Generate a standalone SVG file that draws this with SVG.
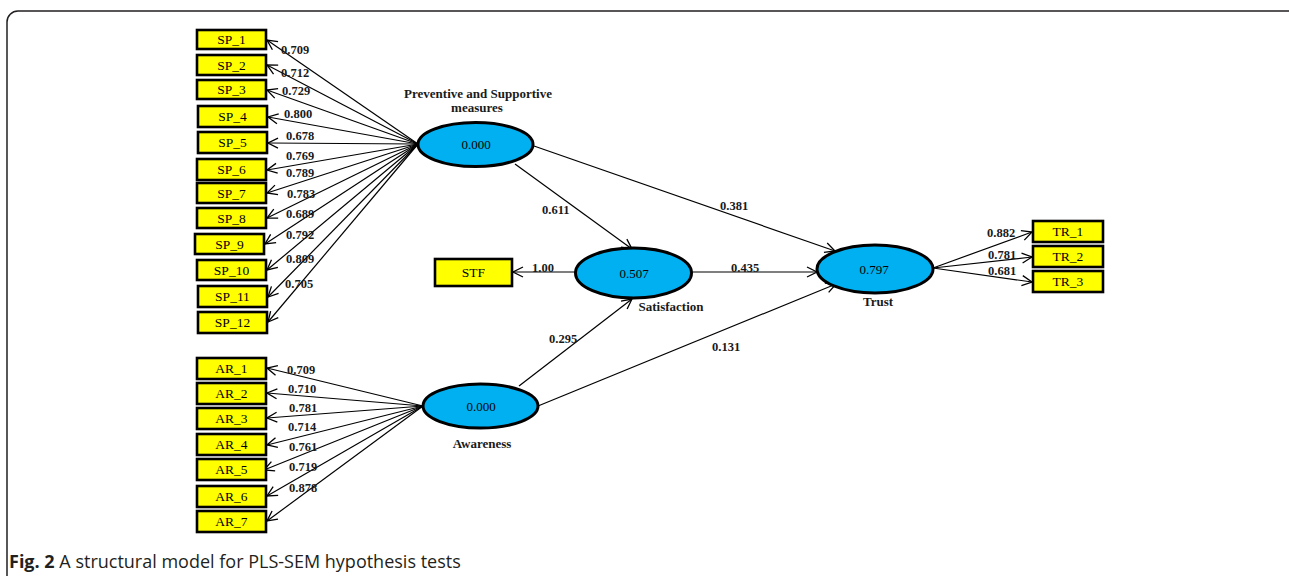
<svg xmlns="http://www.w3.org/2000/svg" width="1289" height="576" viewBox="0 0 1289 576">
<defs>
<marker id="ah" viewBox="0 0 12 12" refX="11" refY="6" markerWidth="12" markerHeight="12" markerUnits="userSpaceOnUse" orient="auto">
<path d="M1,1 L11,6 L1,11" fill="none" stroke="#000" stroke-width="1.3"/>
</marker>
<style>
.box{fill:#ffff00;stroke:#000;stroke-width:2.6}
.bt{font-family:"Liberation Serif",serif;font-size:13.5px;text-anchor:middle;fill:#000}
.lv{fill:#00b0f0;stroke:#000;stroke-width:3}
.lt{font-family:"Liberation Serif",serif;font-size:13px;text-anchor:middle;fill:#000}
.nm{font-family:"Liberation Serif",serif;font-size:13px;font-weight:bold;text-anchor:middle;fill:#1a1a1a}
.w{font-family:"Liberation Serif",serif;font-size:12.5px;font-weight:bold;fill:#1a1a1a}
.c line{stroke:#000;stroke-width:1.2;marker-end:url(#ah)}
.cap{font-family:"Open Sans",sans-serif;font-size:18px;fill:#231f20}
</style>
</defs>
<rect x="7" y="11" width="1300" height="620" rx="11" fill="#fff" stroke="#231f20" stroke-width="1.5"/>

<g id="connectors" class="c">
<line x1="418" y1="144" x2="267" y2="40"/>
<line x1="418" y1="144" x2="267" y2="65"/>
<line x1="418" y1="144" x2="267" y2="90"/>
<line x1="418" y1="144" x2="268" y2="117"/>
<line x1="418" y1="144" x2="268" y2="143"/>
<line x1="418" y1="144" x2="267" y2="170"/>
<line x1="418" y1="144" x2="267" y2="193"/>
<line x1="418" y1="144" x2="267" y2="218"/>
<line x1="418" y1="144" x2="265" y2="244"/>
<line x1="418" y1="144" x2="267" y2="270"/>
<line x1="418" y1="144" x2="268" y2="297"/>
<line x1="418" y1="144" x2="268" y2="322"/>
<line x1="423" y1="406" x2="267" y2="368"/>
<line x1="423" y1="406" x2="267" y2="393"/>
<line x1="423" y1="406" x2="267" y2="418"/>
<line x1="423" y1="406" x2="267" y2="445"/>
<line x1="423" y1="406" x2="264" y2="470"/>
<line x1="423" y1="406" x2="267" y2="496"/>
<line x1="423" y1="406" x2="267" y2="521"/>
<line x1="515" y1="164" x2="632" y2="249"/>
<line x1="534" y1="146" x2="835" y2="251"/>
<line x1="692" y1="272" x2="817" y2="272"/>
<line x1="519" y1="386" x2="632" y2="299"/>
<line x1="538" y1="406" x2="836" y2="284"/>
<line x1="575" y1="272" x2="513" y2="272"/>
<line x1="933" y1="268" x2="1032" y2="232"/>
<line x1="933" y1="268" x2="1032" y2="257"/>
<line x1="933" y1="268" x2="1032" y2="282"/>
</g>

<g id="sp_1"><rect class="box" x="197" y="30" width="69" height="19"/><text class="bt" x="231.5" y="44">SP_1</text></g>
<g id="sp_2"><rect class="box" x="197" y="55" width="69" height="20"/><text class="bt" x="231.5" y="70">SP_2</text></g>
<g id="sp_3"><rect class="box" x="197" y="80" width="69" height="19"/><text class="bt" x="231.5" y="94">SP_3</text></g>
<g id="sp_4"><rect class="box" x="198" y="106" width="69" height="21"/><text class="bt" x="232.5" y="121">SP_4</text></g>
<g id="sp_5"><rect class="box" x="198" y="132" width="69" height="21"/><text class="bt" x="232.5" y="147">SP_5</text></g>
<g id="sp_6"><rect class="box" x="197" y="159" width="69" height="21"/><text class="bt" x="231.5" y="174">SP_6</text></g>
<g id="sp_7"><rect class="box" x="197" y="183" width="69" height="20"/><text class="bt" x="231.5" y="198">SP_7</text></g>
<g id="sp_8"><rect class="box" x="197" y="208" width="69" height="20"/><text class="bt" x="231.5" y="223">SP_8</text></g>
<g id="sp_9"><rect class="box" x="195" y="234" width="69" height="20"/><text class="bt" x="229.5" y="249">SP_9</text></g>
<g id="sp_10"><rect class="box" x="197" y="260" width="69" height="20"/><text class="bt" x="231.5" y="275">SP_10</text></g>
<g id="sp_11"><rect class="box" x="198" y="286" width="69" height="21"/><text class="bt" x="232.5" y="301">SP_11</text></g>
<g id="sp_12"><rect class="box" x="198" y="312" width="69" height="21"/><text class="bt" x="232.5" y="327">SP_12</text></g>

<g id="ar_1"><rect class="box" x="197" y="358" width="69" height="21"/><text class="bt" x="231.5" y="373">AR_1</text></g>
<g id="ar_2"><rect class="box" x="197" y="383" width="69" height="21"/><text class="bt" x="231.5" y="398">AR_2</text></g>
<g id="ar_3"><rect class="box" x="197" y="408" width="69" height="21"/><text class="bt" x="231.5" y="423">AR_3</text></g>
<g id="ar_4"><rect class="box" x="197" y="434" width="69" height="21"/><text class="bt" x="231.5" y="449">AR_4</text></g>
<g id="ar_5"><rect class="box" x="197" y="459" width="69" height="21"/><text class="bt" x="231.5" y="474">AR_5</text></g>
<g id="ar_6"><rect class="box" x="197" y="486" width="69" height="21"/><text class="bt" x="231.5" y="501">AR_6</text></g>
<g id="ar_7"><rect class="box" x="197" y="511" width="69" height="21"/><text class="bt" x="231.5" y="526">AR_7</text></g>

<g id="stf"><rect class="box" x="435" y="259" width="77" height="27"/><text class="bt" x="473.5" y="277">STF</text></g>
<g id="tr_1"><rect class="box" x="1033" y="221" width="70" height="21"/><text class="bt" x="1068" y="236">TR_1</text></g>
<g id="tr_2"><rect class="box" x="1033" y="246" width="70" height="21"/><text class="bt" x="1068" y="261">TR_2</text></g>
<g id="tr_3"><rect class="box" x="1033" y="271" width="70" height="21"/><text class="bt" x="1068" y="286">TR_3</text></g>

<g id="psm"><ellipse class="lv" cx="475.5" cy="144.5" rx="57.5" ry="22"/><text class="lt" x="476" y="149">0.000</text>
<text class="nm" x="478" y="98">Preventive  and Supportive</text><text class="nm" x="477" y="112">measures</text></g>
<g id="satisfaction"><ellipse class="lv" cx="633.5" cy="273" rx="58" ry="25"/><text class="lt" x="634" y="278">0.507</text>
<text class="nm" x="671" y="311">Satisfaction</text></g>
<g id="trust"><ellipse class="lv" cx="875" cy="269" rx="58" ry="24"/><text class="lt" x="874" y="274">0.797</text>
<text class="nm" x="878" y="306">Trust</text></g>
<g id="awareness"><ellipse class="lv" cx="480.5" cy="406" rx="57.5" ry="22"/><text class="lt" x="481" y="411">0.000</text>
<text class="nm" x="482" y="448">Awareness</text></g>

<g id="loadings">
<text class="w" x="281" y="54">0.709</text>
<text class="w" x="281" y="77">0.712</text>
<text class="w" x="282" y="95">0.729</text>
<text class="w" x="284" y="118">0.800</text>
<text class="w" x="286" y="140">0.678</text>
<text class="w" x="286" y="160">0.769</text>
<text class="w" x="286" y="177">0.789</text>
<text class="w" x="287" y="198">0.783</text>
<text class="w" x="286" y="218">0.689</text>
<text class="w" x="286" y="239">0.792</text>
<text class="w" x="286" y="263">0.809</text>
<text class="w" x="285" y="288">0.705</text>
<text class="w" x="287" y="374">0.709</text>
<text class="w" x="288" y="393">0.710</text>
<text class="w" x="289" y="412">0.781</text>
<text class="w" x="288" y="431">0.714</text>
<text class="w" x="289" y="451">0.761</text>
<text class="w" x="289" y="471">0.719</text>
<text class="w" x="289" y="492">0.878</text>
<text class="w" x="532" y="272">1.00</text>
<text class="w" x="542" y="214">0.611</text>
<text class="w" x="720" y="210">0.381</text>
<text class="w" x="731" y="272">0.435</text>
<text class="w" x="549" y="343">0.295</text>
<text class="w" x="712" y="351">0.131</text>
<text class="w" x="987" y="237">0.882</text>
<text class="w" x="988" y="259">0.781</text>
<text class="w" x="988" y="275">0.681</text>
</g>

<text class="cap" x="9" y="568"><tspan font-weight="bold">Fig. 2</tspan> A structural model for PLS-SEM hypothesis tests</text>
</svg>
